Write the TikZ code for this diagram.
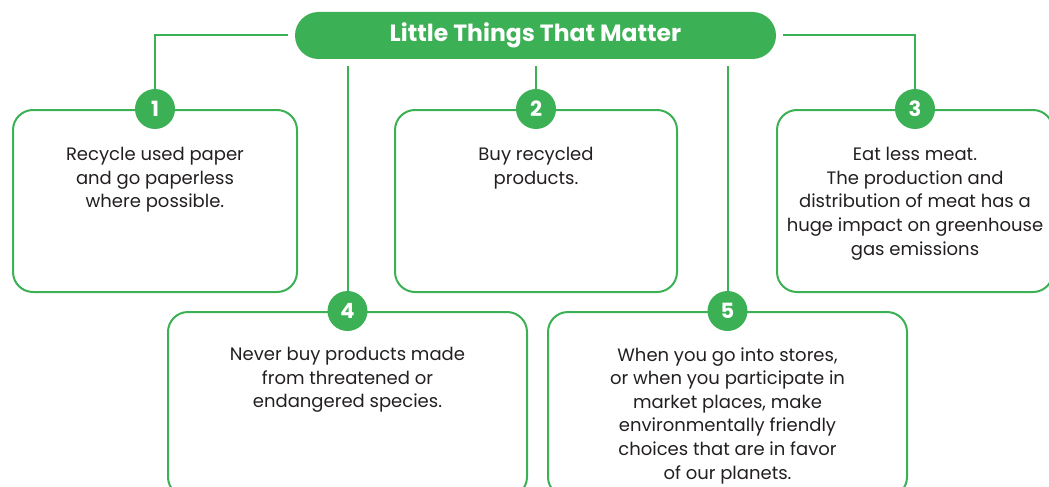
\documentclass[tikz,border=0pt]{standalone}
\usepackage{fontspec}
\setmainfont{Poppins}
\usetikzlibrary{positioning}
\definecolor{leafgreen}{HTML}{3CB054}
\definecolor{inkgray}{HTML}{231F20}
\tikzset{
  tipbox/.style={draw=leafgreen, line width=2pt, rounded corners=20pt, minimum height=182pt},
  badge/.style={circle, fill=leafgreen, text=white, minimum size=40pt, inner sep=0pt,
    font=\bfseries\fontsize{21}{21}\selectfont},
  tiptext/.style={text=inkgray, align=center, inner sep=0pt, font=\fontsize{18}{23.6}\selectfont},
  link/.style={draw=leafgreen, line width=2pt, shorten <=7pt},
}

\begin{document}
\begin{tikzpicture}[x=1pt, y=-1pt]
    \useasboundingbox (0,0) rectangle (1049,487);
    \clip (0,0) rectangle (1049,487);
    % Title pill
    \node[fill=leafgreen, rounded corners=23.5pt, minimum width=481pt, minimum height=47pt,
      text=white, font=\bfseries\fontsize{23.5}{23.5}\selectfont] (title) at (535.5,35.5) {Little Things That Matter};
    % Boxes (rounded frames)
    \node[tipbox, minimum width=284pt] (box1) at (155,201) {};
    \node[tipbox, minimum width=282pt] (box2) at (536,201) {};
    \node[tipbox, minimum width=276pt] (box3) at (915,201) {};
    \node[tipbox, minimum width=359pt, minimum height=185pt] (box4) at (347.5,404.5) {};
    \node[tipbox, minimum width=359pt, minimum height=185pt] (box5) at (727.5,404.5) {};
    % Number badges on the top edges
    \node[badge] (n1) at (box1.north) {1};
    \node[badge] (n2) at (box2.north) {2};
    \node[badge] (n3) at (box3.north) {3};
    \node[badge] (n4) at (box4.north) {4};
    \node[badge] (n5) at (box5.north) {5};
    % Connectors from the title
    \draw[link] (title.west) -| (n1);
    \draw[link] (title.east) -| (n3);
    \draw[link] (n2 |- title.south) -- (n2);
    \draw[link] (n4 |- title.south) -- (n4);
    \draw[link] (n5 |- title.south) -- (n5);
    % Texts
    \node[tiptext, below=18pt of n1] (t1) {Recycle used paper\\and go paperless\\where possible.};
    \node[tiptext, below=18pt of n2] (t2) {Buy recycled\\products.};
    \node[tiptext, below=18pt of n3] (t3) {Eat less meat.\\The production and\\distribution of meat has a\\huge impact on greenhouse\\gas emissions};
    \node[tiptext, below=16pt of n4] (t4) {Never buy products made\\from threatened or\\endangered species.};
    \node[tiptext, below=16pt of n5] (t5) {When you go into stores,\\or when you participate in\\market places, make\\environmentally friendly\\choices that are in favor\\of our planets.};
\end{tikzpicture}
\end{document}
